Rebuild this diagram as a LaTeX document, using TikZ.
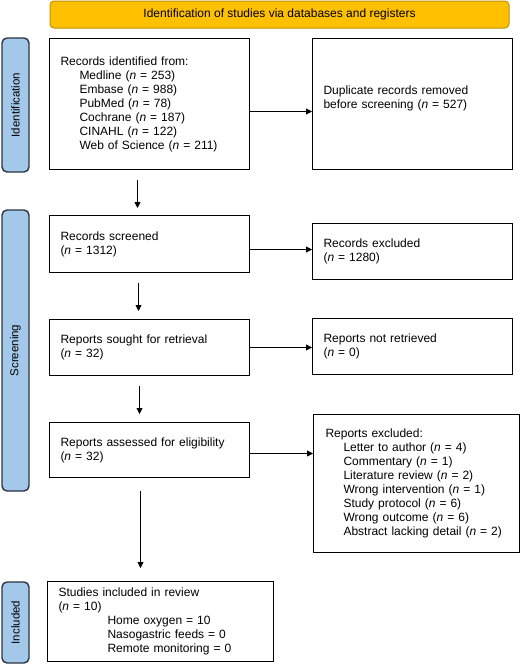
\documentclass[tikz,border=0pt]{standalone}
\usepackage{fontspec}
\setmainfont{Liberation Sans}
\usetikzlibrary{arrows.meta}
\definecolor{bannerfill}{HTML}{FFC000}
\definecolor{bannerline}{HTML}{C09000}
\definecolor{barfill}{HTML}{A4C8EA}
\definecolor{barline}{HTML}{2B3440}
\begin{document}
\begin{tikzpicture}[x=1pt,y=-1pt,
  box/.style={draw,line width=1pt,anchor=north west,align=left,inner xsep=11pt,inner ysep=0pt,
    text width=178pt,minimum height=#1,font=\fontsize{12}{14}\selectfont},
  phase/.style={draw=barline,fill=barfill,line width=1.4pt,rounded corners=5pt},
  phaselabel/.style={rotate=90,font=\fontsize{11.5}{13}\selectfont},
  arr/.style={-{Triangle[length=6pt,width=6pt]},line width=0.8pt}]
\useasboundingbox (0,0) rectangle (520,664);
% banner
\draw[draw=bannerline,fill=bannerfill,line width=1pt,rounded corners=4pt] (50,1) rectangle (509,28);
\node[font=\fontsize{12}{14}\selectfont] (banner) at (279.5,14.5) {Identification of studies via databases and registers};
% phases
\draw[phase] (2,38) rectangle (29,172);
\draw[phase] (2,210) rectangle (29,491);
\draw[phase] (2,582) rectangle (29,663);
\node[phaselabel] (idlab) at (15.5,105) {Identification};
\node[phaselabel] (scrlab) at (15.5,350.5) {Screening};
\node[phaselabel] (inclab) at (15.5,622.5) {Included};
% left column
\node[box=131pt] (ident) at (49,38) {Records identified from:\\
  \hspace*{19pt}Medline (\textit{n} = 253)\\
  \hspace*{19pt}Embase (\textit{n} = 988)\\
  \hspace*{19pt}PubMed (\textit{n} = 78)\\
  \hspace*{19pt}Cochrane (\textit{n} = 187)\\
  \hspace*{19pt}CINAHL (\textit{n} = 122)\\
  \hspace*{19pt}Web of Science (\textit{n} = 211)};
\node[box=57pt] (screen) at (49,215) {Records screened\\(\textit{n} = 1312)};
\node[box=56pt] (sought) at (49,319) {Reports sought for retrieval\\(\textit{n} = 32)};
\node[box=55pt] (assess) at (49,422) {Reports assessed for eligibility\\(\textit{n} = 32)};
\node[box=80pt,text width=204pt] (incl) at (47,581) {Studies included in review\\(\textit{n} = 10)\\
  \hspace*{49pt}Home oxygen = 10\\
  \hspace*{49pt}Nasogastric feeds = 0\\
  \hspace*{49pt}Remote monitoring = 0};
% right column
\node[box=131pt] (dup) at (312,38) {Duplicate records removed\\before screening (\textit{n} = 527)\\\mbox{}};
\node[box=56pt] (excl) at (312,223) {Records excluded\\(\textit{n} = 1280)};
\node[box=56pt] (notret) at (312,318) {Reports not retrieved\\(\textit{n} = 0)};
\node[box=138pt,inner xsep=12pt,text width=182pt] (rexcl) at (313,414) {Reports excluded:\\
  \hspace*{18pt}Letter to author (\textit{n} = 4)\\
  \hspace*{18pt}Commentary (\textit{n} = 1)\\
  \hspace*{18pt}Literature review (\textit{n} = 2)\\
  \hspace*{18pt}Wrong intervention (\textit{n} = 1)\\
  \hspace*{18pt}Study protocol (\textit{n} = 6)\\
  \hspace*{18pt}Wrong outcome (\textit{n} = 6)\\
  \hspace*{18pt}Abstract lacking detail (\textit{n} = 2)};
% arrows across
\coordinate (a1) at ([yshift=-7.5pt]ident.east);
\coordinate (a2) at ([yshift=-5.5pt]screen.east);
\coordinate (a3) at (sought.east);
\coordinate (a4) at ([yshift=-3.5pt]assess.east);
\draw[arr] (a1) -- (a1 -| dup.west);
\draw[arr] (a2) -- (a2 -| excl.west);
\draw[arr] (a3) -- (a3 -| notret.west);
\draw[arr] (a4) -- (a4 -| rexcl.west);
% arrows down
\draw[arr] ([xshift=-12pt,yshift=-10pt]ident.south) -- ([xshift=-12pt,yshift=7pt]screen.north);
\draw[arr] ([xshift=-11pt,yshift=-10pt]screen.south) -- ([xshift=-11pt,yshift=8pt]sought.north);
\draw[arr] ([xshift=-10pt,yshift=-10pt]sought.south) -- ([xshift=-10pt,yshift=8pt]assess.north);
\draw[arr] ([xshift=-9pt,yshift=-13pt]assess.south) -- ([xshift=-20pt,yshift=13pt]incl.north);
\end{tikzpicture}
\end{document}
